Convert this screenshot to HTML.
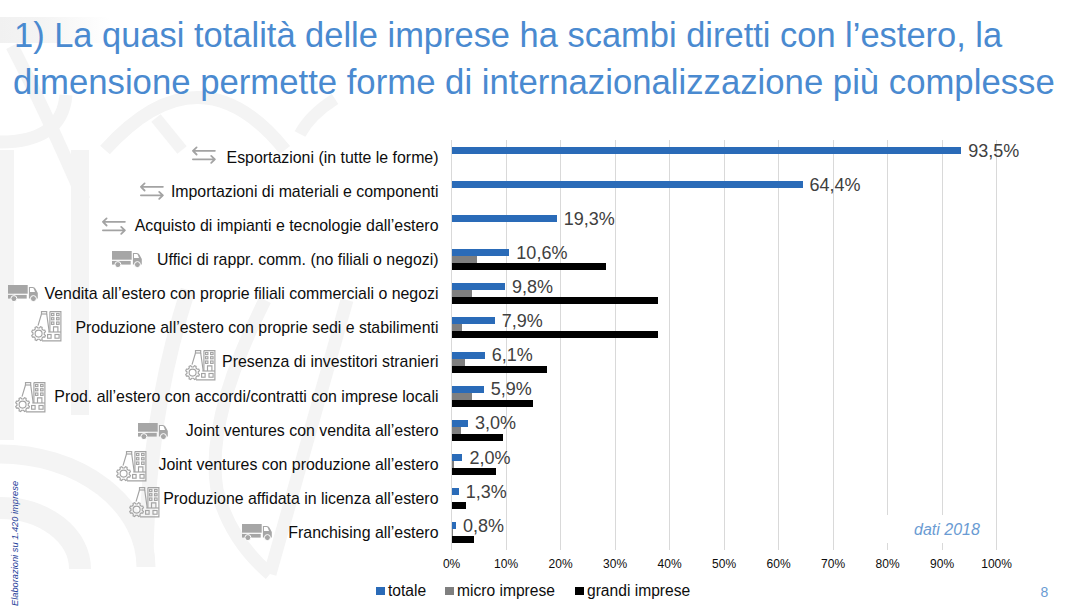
<!DOCTYPE html>
<html><head><meta charset="utf-8"><style>
html,body{margin:0;padding:0;}
body{width:1085px;height:610px;position:relative;overflow:hidden;background:#fff;font-family:"Liberation Sans",sans-serif;}
.wm{position:absolute;left:0;top:0;}
.title{position:absolute;color:#4a8ad0;font-size:35.5px;white-space:nowrap;line-height:40px;transform-origin:0 0;}
.gl{position:absolute;top:140.2px;height:409.8px;width:1px;background:#d9d9d9;}
.bar{position:absolute;left:451.60px;}
.bt{background:#2a6bb8;}
.bm{background:#7f7f7f;}
.bg{background:#000;}
.dl{position:absolute;font-size:18px;line-height:18px;color:#404040;white-space:nowrap;}
.cat{position:absolute;right:646.5px;line-height:20px;white-space:nowrap;font-size:15.9px;color:#0d0d0d;}
.ic{position:absolute;}
.ic svg{display:block;}
.al{position:absolute;top:557px;width:60px;text-align:center;font-size:12px;line-height:14px;color:#0d0d0d;}
.leg{position:absolute;top:582.3px;font-size:15.6px;line-height:18px;color:#0d0d0d;white-space:nowrap;}
.sw{position:absolute;width:9px;height:7.5px;top:587.4px;}
.dati{position:absolute;left:880px;top:515px;width:110px;height:28px;background:#fff;}
.dati span{position:absolute;left:34px;top:6px;font-style:italic;font-size:16px;line-height:18px;color:#6a9bd3;}
.pg{position:absolute;left:1040.5px;top:583.5px;font-size:14px;line-height:16px;color:#6a9bd3;}
.vt{position:absolute;left:11.2px;top:605.7px;transform-origin:0 0;transform:rotate(-90deg);font-style:italic;font-size:9.3px;line-height:9px;color:#1c3c98;white-space:nowrap;}
</style></head><body>
<svg class="wm" width="1085" height="610" viewBox="0 0 1085 610"><defs><linearGradient id="gb" x1="0" x2="1" y1="0" y2="0"><stop offset="0" stop-color="#f1f1f1"/><stop offset="0.4" stop-color="#f4f4f4"/><stop offset="1" stop-color="#fff"/></linearGradient></defs><rect x="0" y="17" width="110" height="26" fill="url(#gb)"/><g fill="none" stroke="#f4f4f4" stroke-linecap="butt">
<path d="M12 46Q45 110 84 200" stroke-width="13"/>
<path d="M66 95Q62 142 0 142" stroke-width="13"/>
<path d="M105 150Q200 45 285 150" stroke-width="13"/><path d="M156 118L182 150" stroke-width="12"/>
<path d="M335 99Q310 115 300 134" stroke-width="12"/>
<path d="M7 150V440" stroke-width="14"/>
<path d="M80 150V415" stroke-width="18"/>
<path d="M0 454A146 113 0 0 1 146 567" stroke-width="19"/>
<path d="M0 508A80 61 0 0 1 80 569" stroke-width="22"/>
<path d="M265 300Q205 420 217 490Q230 540 270 574" stroke-width="13"/>
<path d="M347 300L270 574" stroke-width="13"/>
<path d="M188 290Q146 420 146 567" stroke-width="15"/>
</g></svg>
<div class="title" style="top:14.5px;left:14.3px;transform:scaleX(0.9705)">1) La quasi totalità delle imprese ha scambi diretti con l’estero, la</div>
<div class="title" style="top:62px;left:13.4px;transform:scaleX(0.9776)">dimensione permette forme di internazionalizzazione più complesse</div>
<div class="gl" style="left:451.10px"></div>
<div class="gl" style="left:505.60px"></div>
<div class="gl" style="left:560.10px"></div>
<div class="gl" style="left:614.60px"></div>
<div class="gl" style="left:669.10px"></div>
<div class="gl" style="left:723.60px"></div>
<div class="gl" style="left:778.10px"></div>
<div class="gl" style="left:832.60px"></div>
<div class="gl" style="left:887.10px"></div>
<div class="gl" style="left:941.60px"></div>
<div class="gl" style="left:996.10px"></div>
<div class="bar bt" style="top:146.86px;width:509.57px;height:7.00px"></div>
<div class="dl" style="left:968.17px;top:141.52px">93,5%</div>
<div class="cat" style="top:147.75px">Esportazioni (in tutte le forme)</div>
<div class="ic" style="left:190.10px;top:145.10px"><svg width="28" height="20" viewBox="-2 -2 28 20"><g fill="none" stroke="#a3a3a3" stroke-width="1.8" stroke-linecap="round" stroke-linejoin="round"><path d="M0.9 3.85H22.9M4.6 0.4L0.9 3.85L4.6 7.5"/><path d="M0.9 12.35H22.9M19.2 8.9L22.9 12.35L19.2 15.9"/></g></svg></div>
<div class="bar bt" style="top:180.97px;width:350.98px;height:7.00px"></div>
<div class="dl" style="left:809.58px;top:175.63px">64,4%</div>
<div class="cat" style="top:181.86px">Importazioni di materiali e componenti</div>
<div class="ic" style="left:138.00px;top:180.80px"><svg width="28" height="20" viewBox="-2 -2 28 20"><g fill="none" stroke="#a3a3a3" stroke-width="1.8" stroke-linecap="round" stroke-linejoin="round"><path d="M0.9 3.85H22.9M4.6 0.4L0.9 3.85L4.6 7.5"/><path d="M0.9 12.35H22.9M19.2 8.9L22.9 12.35L19.2 15.9"/></g></svg></div>
<div class="bar bt" style="top:215.08px;width:105.19px;height:7.00px"></div>
<div class="dl" style="left:563.79px;top:209.74px">19,3%</div>
<div class="cat" style="top:215.97px">Acquisto di impianti e tecnologie dall’estero</div>
<div class="ic" style="left:100.40px;top:215.50px"><svg width="28" height="20" viewBox="-2 -2 28 20"><g fill="none" stroke="#a3a3a3" stroke-width="1.8" stroke-linecap="round" stroke-linejoin="round"><path d="M0.9 3.85H22.9M4.6 0.4L0.9 3.85L4.6 7.5"/><path d="M0.9 12.35H22.9M19.2 8.9L22.9 12.35L19.2 15.9"/></g></svg></div>
<div class="bar bt" style="top:249.19px;width:57.77px;height:7.00px"></div>
<div class="bar bm" style="top:256.19px;width:25.62px;height:7.00px"></div>
<div class="bar bg" style="top:263.19px;width:154.78px;height:7.00px"></div>
<div class="dl" style="left:516.37px;top:243.84px">10,6%</div>
<div class="cat" style="top:250.08px">Uffici di rappr. comm. (no filiali o negozi)</div>
<div class="ic" style="left:110.10px;top:249.10px"><svg width="34" height="21" viewBox="-2 -2 34 21"><g fill="#a6a6a6"><rect x="0" y="0" width="19.7" height="8.7"/><rect x="0" y="9.9" width="18.7" height="3.7"/><path d="M20.9 13.6V2H24.8Q26.6 2 27.5 3.8L29.8 8V13.6Z"/></g><path d="M22 3H24.6Q25.5 3 25.9 4L27 6.9H22Z" fill="#fff"/><g fill="#a6a6a6" stroke="#fff" stroke-width="1"><circle cx="5.9" cy="13.6" r="3"/><circle cx="25.4" cy="13.6" r="3"/></g></svg></div>
<div class="bar bt" style="top:283.30px;width:53.41px;height:7.00px"></div>
<div class="bar bm" style="top:290.30px;width:20.17px;height:7.00px"></div>
<div class="bar bg" style="top:297.30px;width:206.01px;height:7.00px"></div>
<div class="dl" style="left:512.01px;top:277.96px">9,8%</div>
<div class="cat" style="top:284.19px">Vendita all’estero con proprie filiali commerciali o negozi</div>
<div class="ic" style="left:6.10px;top:283.00px"><svg width="34" height="21" viewBox="-2 -2 34 21"><g fill="#a6a6a6"><rect x="0" y="0" width="19.7" height="8.7"/><rect x="0" y="9.9" width="18.7" height="3.7"/><path d="M20.9 13.6V2H24.8Q26.6 2 27.5 3.8L29.8 8V13.6Z"/></g><path d="M22 3H24.6Q25.5 3 25.9 4L27 6.9H22Z" fill="#fff"/><g fill="#a6a6a6" stroke="#fff" stroke-width="1"><circle cx="5.9" cy="13.6" r="3"/><circle cx="25.4" cy="13.6" r="3"/></g></svg></div>
<div class="bar bt" style="top:317.41px;width:43.06px;height:7.00px"></div>
<div class="bar bm" style="top:324.41px;width:10.36px;height:7.00px"></div>
<div class="bar bg" style="top:331.41px;width:206.01px;height:7.00px"></div>
<div class="dl" style="left:501.66px;top:312.07px">7,9%</div>
<div class="cat" style="top:318.30px">Produzione all’estero con proprie sedi e stabilimenti</div>
<div class="ic" style="left:29.20px;top:308.90px"><svg width="35" height="35" viewBox="-2 -2 35 35"><g fill="none" stroke="#a3a3a3" stroke-width="1.15"><rect x="10.5" y="0.6" width="5.2" height="2.4"/><path d="M10.5 3L7 14.6M15.7 3L18.2 20.8"/><path d="M18.9 0.6H29.9V29.9H11"/><path d="M18.9 0.6V21"/><path d="M17.3 21H29.9"/><rect x="20.5" y="2.5" width="2.4" height="2.1"/><rect x="25.6" y="2.5" width="2.5" height="2.1"/><rect x="20.5" y="6.7" width="2.4" height="2.1"/><rect x="25.6" y="6.7" width="2.5" height="2.1"/><rect x="20.5" y="11" width="2.4" height="2.4"/><rect x="25.6" y="11" width="2.5" height="2.4"/><path d="M22.5 21V15.9H26.9V21"/><rect x="16.6" y="23.5" width="3.5" height="3.7"/><rect x="24" y="23.5" width="4.1" height="3.7"/><circle cx="7.6" cy="22.6" r="3.5"/><path d="M13.23 23.49L14.45 24.47L13.77 26.12L12.21 25.95L10.95 27.21L11.12 28.77L9.47 29.45L8.49 28.23L6.71 28.23L5.73 29.45L4.08 28.77L4.25 27.21L2.99 25.95L1.43 26.12L0.75 24.47L1.97 23.49L1.97 21.71L0.75 20.73L1.43 19.08L2.99 19.25L4.25 17.99L4.08 16.43L5.73 15.75L6.71 16.97L8.49 16.97L9.47 15.75L11.12 16.43L10.95 17.99L12.21 19.25L13.77 19.08L14.45 20.73L13.23 21.71Z"/></g></svg></div>
<div class="bar bt" style="top:351.52px;width:33.24px;height:7.00px"></div>
<div class="bar bm" style="top:358.52px;width:13.08px;height:7.00px"></div>
<div class="bar bg" style="top:365.52px;width:95.38px;height:7.00px"></div>
<div class="dl" style="left:491.85px;top:346.18px">6,1%</div>
<div class="cat" style="top:352.41px">Presenza di investitori stranieri</div>
<div class="ic" style="left:183.10px;top:347.90px"><svg width="35" height="35" viewBox="-2 -2 35 35"><g fill="none" stroke="#a3a3a3" stroke-width="1.15"><rect x="10.5" y="0.6" width="5.2" height="2.4"/><path d="M10.5 3L7 14.6M15.7 3L18.2 20.8"/><path d="M18.9 0.6H29.9V29.9H11"/><path d="M18.9 0.6V21"/><path d="M17.3 21H29.9"/><rect x="20.5" y="2.5" width="2.4" height="2.1"/><rect x="25.6" y="2.5" width="2.5" height="2.1"/><rect x="20.5" y="6.7" width="2.4" height="2.1"/><rect x="25.6" y="6.7" width="2.5" height="2.1"/><rect x="20.5" y="11" width="2.4" height="2.4"/><rect x="25.6" y="11" width="2.5" height="2.4"/><path d="M22.5 21V15.9H26.9V21"/><rect x="16.6" y="23.5" width="3.5" height="3.7"/><rect x="24" y="23.5" width="4.1" height="3.7"/><circle cx="7.6" cy="22.6" r="3.5"/><path d="M13.23 23.49L14.45 24.47L13.77 26.12L12.21 25.95L10.95 27.21L11.12 28.77L9.47 29.45L8.49 28.23L6.71 28.23L5.73 29.45L4.08 28.77L4.25 27.21L2.99 25.95L1.43 26.12L0.75 24.47L1.97 23.49L1.97 21.71L0.75 20.73L1.43 19.08L2.99 19.25L4.25 17.99L4.08 16.43L5.73 15.75L6.71 16.97L8.49 16.97L9.47 15.75L11.12 16.43L10.95 17.99L12.21 19.25L13.77 19.08L14.45 20.73L13.23 21.71Z"/></g></svg></div>
<div class="bar bt" style="top:385.62px;width:32.16px;height:7.00px"></div>
<div class="bar bm" style="top:392.62px;width:20.17px;height:7.00px"></div>
<div class="bar bg" style="top:399.62px;width:81.20px;height:7.00px"></div>
<div class="dl" style="left:490.75px;top:380.29px">5,9%</div>
<div class="cat" style="top:386.52px">Prod. all’estero con accordi/contratti con imprese locali</div>
<div class="ic" style="left:13.20px;top:379.80px"><svg width="35" height="35" viewBox="-2 -2 35 35"><g fill="none" stroke="#a3a3a3" stroke-width="1.15"><rect x="10.5" y="0.6" width="5.2" height="2.4"/><path d="M10.5 3L7 14.6M15.7 3L18.2 20.8"/><path d="M18.9 0.6H29.9V29.9H11"/><path d="M18.9 0.6V21"/><path d="M17.3 21H29.9"/><rect x="20.5" y="2.5" width="2.4" height="2.1"/><rect x="25.6" y="2.5" width="2.5" height="2.1"/><rect x="20.5" y="6.7" width="2.4" height="2.1"/><rect x="25.6" y="6.7" width="2.5" height="2.1"/><rect x="20.5" y="11" width="2.4" height="2.4"/><rect x="25.6" y="11" width="2.5" height="2.4"/><path d="M22.5 21V15.9H26.9V21"/><rect x="16.6" y="23.5" width="3.5" height="3.7"/><rect x="24" y="23.5" width="4.1" height="3.7"/><circle cx="7.6" cy="22.6" r="3.5"/><path d="M13.23 23.49L14.45 24.47L13.77 26.12L12.21 25.95L10.95 27.21L11.12 28.77L9.47 29.45L8.49 28.23L6.71 28.23L5.73 29.45L4.08 28.77L4.25 27.21L2.99 25.95L1.43 26.12L0.75 24.47L1.97 23.49L1.97 21.71L0.75 20.73L1.43 19.08L2.99 19.25L4.25 17.99L4.08 16.43L5.73 15.75L6.71 16.97L8.49 16.97L9.47 15.75L11.12 16.43L10.95 17.99L12.21 19.25L13.77 19.08L14.45 20.73L13.23 21.71Z"/></g></svg></div>
<div class="bar bt" style="top:419.74px;width:16.35px;height:7.00px"></div>
<div class="bar bm" style="top:426.74px;width:9.81px;height:7.00px"></div>
<div class="bar bg" style="top:433.74px;width:51.77px;height:7.00px"></div>
<div class="dl" style="left:474.95px;top:414.40px">3,0%</div>
<div class="cat" style="top:420.63px">Joint ventures con vendita all’estero</div>
<div class="ic" style="left:136.00px;top:421.00px"><svg width="34" height="21" viewBox="-2 -2 34 21"><g fill="#a6a6a6"><rect x="0" y="0" width="19.7" height="8.7"/><rect x="0" y="9.9" width="18.7" height="3.7"/><path d="M20.9 13.6V2H24.8Q26.6 2 27.5 3.8L29.8 8V13.6Z"/></g><path d="M22 3H24.6Q25.5 3 25.9 4L27 6.9H22Z" fill="#fff"/><g fill="#a6a6a6" stroke="#fff" stroke-width="1"><circle cx="5.9" cy="13.6" r="3"/><circle cx="25.4" cy="13.6" r="3"/></g></svg></div>
<div class="bar bt" style="top:453.85px;width:10.90px;height:7.00px"></div>
<div class="bar bm" style="top:460.85px;width:1.91px;height:7.00px"></div>
<div class="bar bg" style="top:467.85px;width:44.69px;height:7.00px"></div>
<div class="dl" style="left:469.50px;top:448.51px">2,0%</div>
<div class="cat" style="top:454.74px">Joint ventures con produzione all’estero</div>
<div class="ic" style="left:113.90px;top:448.90px"><svg width="35" height="35" viewBox="-2 -2 35 35"><g fill="none" stroke="#a3a3a3" stroke-width="1.15"><rect x="10.5" y="0.6" width="5.2" height="2.4"/><path d="M10.5 3L7 14.6M15.7 3L18.2 20.8"/><path d="M18.9 0.6H29.9V29.9H11"/><path d="M18.9 0.6V21"/><path d="M17.3 21H29.9"/><rect x="20.5" y="2.5" width="2.4" height="2.1"/><rect x="25.6" y="2.5" width="2.5" height="2.1"/><rect x="20.5" y="6.7" width="2.4" height="2.1"/><rect x="25.6" y="6.7" width="2.5" height="2.1"/><rect x="20.5" y="11" width="2.4" height="2.4"/><rect x="25.6" y="11" width="2.5" height="2.4"/><path d="M22.5 21V15.9H26.9V21"/><rect x="16.6" y="23.5" width="3.5" height="3.7"/><rect x="24" y="23.5" width="4.1" height="3.7"/><circle cx="7.6" cy="22.6" r="3.5"/><path d="M13.23 23.49L14.45 24.47L13.77 26.12L12.21 25.95L10.95 27.21L11.12 28.77L9.47 29.45L8.49 28.23L6.71 28.23L5.73 29.45L4.08 28.77L4.25 27.21L2.99 25.95L1.43 26.12L0.75 24.47L1.97 23.49L1.97 21.71L0.75 20.73L1.43 19.08L2.99 19.25L4.25 17.99L4.08 16.43L5.73 15.75L6.71 16.97L8.49 16.97L9.47 15.75L11.12 16.43L10.95 17.99L12.21 19.25L13.77 19.08L14.45 20.73L13.23 21.71Z"/></g></svg></div>
<div class="bar bt" style="top:487.96px;width:7.09px;height:7.00px"></div>
<div class="bar bg" style="top:501.96px;width:14.72px;height:7.00px"></div>
<div class="dl" style="left:465.69px;top:482.62px">1,3%</div>
<div class="cat" style="top:488.85px">Produzione affidata in licenza all’estero</div>
<div class="ic" style="left:127.10px;top:485.20px"><svg width="35" height="35" viewBox="-2 -2 35 35"><g fill="none" stroke="#a3a3a3" stroke-width="1.15"><rect x="10.5" y="0.6" width="5.2" height="2.4"/><path d="M10.5 3L7 14.6M15.7 3L18.2 20.8"/><path d="M18.9 0.6H29.9V29.9H11"/><path d="M18.9 0.6V21"/><path d="M17.3 21H29.9"/><rect x="20.5" y="2.5" width="2.4" height="2.1"/><rect x="25.6" y="2.5" width="2.5" height="2.1"/><rect x="20.5" y="6.7" width="2.4" height="2.1"/><rect x="25.6" y="6.7" width="2.5" height="2.1"/><rect x="20.5" y="11" width="2.4" height="2.4"/><rect x="25.6" y="11" width="2.5" height="2.4"/><path d="M22.5 21V15.9H26.9V21"/><rect x="16.6" y="23.5" width="3.5" height="3.7"/><rect x="24" y="23.5" width="4.1" height="3.7"/><circle cx="7.6" cy="22.6" r="3.5"/><path d="M13.23 23.49L14.45 24.47L13.77 26.12L12.21 25.95L10.95 27.21L11.12 28.77L9.47 29.45L8.49 28.23L6.71 28.23L5.73 29.45L4.08 28.77L4.25 27.21L2.99 25.95L1.43 26.12L0.75 24.47L1.97 23.49L1.97 21.71L0.75 20.73L1.43 19.08L2.99 19.25L4.25 17.99L4.08 16.43L5.73 15.75L6.71 16.97L8.49 16.97L9.47 15.75L11.12 16.43L10.95 17.99L12.21 19.25L13.77 19.08L14.45 20.73L13.23 21.71Z"/></g></svg></div>
<div class="bar bt" style="top:522.06px;width:4.36px;height:7.00px"></div>
<div class="bar bm" style="top:529.06px;width:1.36px;height:7.00px"></div>
<div class="bar bg" style="top:536.06px;width:22.34px;height:7.00px"></div>
<div class="dl" style="left:462.96px;top:516.72px">0,8%</div>
<div class="cat" style="top:522.96px">Franchising all’estero</div>
<div class="ic" style="left:240.00px;top:521.90px"><svg width="34" height="21" viewBox="-2 -2 34 21"><g fill="#a6a6a6"><rect x="0" y="0" width="19.7" height="8.7"/><rect x="0" y="9.9" width="18.7" height="3.7"/><path d="M20.9 13.6V2H24.8Q26.6 2 27.5 3.8L29.8 8V13.6Z"/></g><path d="M22 3H24.6Q25.5 3 25.9 4L27 6.9H22Z" fill="#fff"/><g fill="#a6a6a6" stroke="#fff" stroke-width="1"><circle cx="5.9" cy="13.6" r="3"/><circle cx="25.4" cy="13.6" r="3"/></g></svg></div>
<div class="al" style="left:421.60px">0%</div>
<div class="al" style="left:476.10px">10%</div>
<div class="al" style="left:530.60px">20%</div>
<div class="al" style="left:585.10px">30%</div>
<div class="al" style="left:639.60px">40%</div>
<div class="al" style="left:694.10px">50%</div>
<div class="al" style="left:748.60px">60%</div>
<div class="al" style="left:803.10px">70%</div>
<div class="al" style="left:857.60px">80%</div>
<div class="al" style="left:912.10px">90%</div>
<div class="al" style="left:966.60px">100%</div>
<div class="dati"><span>dati 2018</span></div>
<div class="sw" style="left:376px;background:#2a6bb8"></div><div class="leg" style="left:388px">totale</div>
<div class="sw" style="left:445px;background:#7f7f7f"></div><div class="leg" style="left:457px">micro imprese</div>
<div class="sw" style="left:575px;background:#000"></div><div class="leg" style="left:587px">grandi imprese</div>
<div class="pg">8</div>
<div class="vt">Elaborazioni su 1.420 imprese</div>
</body></html>
